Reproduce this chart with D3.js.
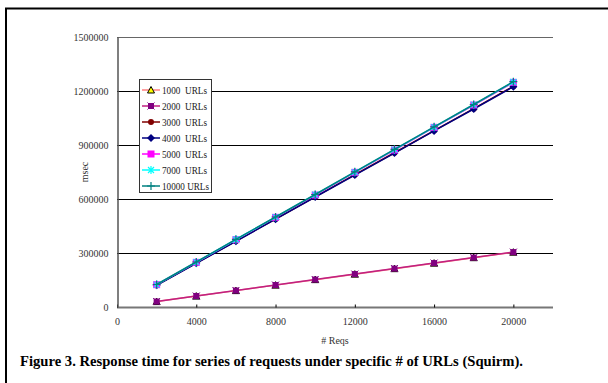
<html>
<head>
<script src="https://cdn.jsdelivr.net/npm/d3@7/dist/d3.min.js"></script>
<style>
  body { margin: 0; background: #fff; }
  text { font-family: "Liberation Serif", "DejaVu Serif", serif; }
</style>
</head>
<body>
<svg id="svg" width="608" height="383"></svg>
<script>
  // data
  let reqs = [2000, 4000, 6000, 8000, 10000, 12000, 14000, 16000, 18000, 20000];
  let urls1000  = [30000, 60500, 91000, 121500, 152000, 182500, 213000, 243500, 274000, 304500];
  let urls2000  = [30500, 61000, 91500, 122000, 152500, 183000, 213500, 244000, 274500, 305000];
  let urls3000  = [121000, 244000, 366000, 489000, 612000, 735000, 857000, 980000, 1102000, 1226000];
  let urls4000  = [120500, 243000, 365000, 488000, 611000, 733000, 855000, 978000, 1100000, 1224000];
  let urls5000  = [124000, 248000, 374000, 498000, 622000, 748000, 872000, 998000, 1122000, 1248000];
  let urls7000  = [124500, 249000, 375000, 499000, 624000, 749000, 874000, 999000, 1124000, 1250000];
  let urls10000 = [125000, 250000, 376000, 500000, 625000, 751000, 876000, 1001000, 1125000, 1252000];
  let names = ["1000  URLs", "2000  URLs", "3000  URLs", "4000  URLs", "5000  URLs", "7000  URLs", "10000 URLs"];
  let xTicks = [0, 4000, 8000, 12000, 16000, 20000];
  let yTicks = [0, 300000, 600000, 900000, 1200000, 1500000];

  let series = [
    {name: names[0], vals: urls1000,  line: "#ff8080", mark: "tri"},
    {name: names[1], vals: urls2000,  line: "#c02080", mark: "xsq"},
    {name: names[2], vals: urls3000,  line: "#800000", mark: "circ"},
    {name: names[3], vals: urls4000,  line: "#000080", mark: "dia"},
    {name: names[4], vals: urls5000,  line: "#ff00ff", mark: "sq"},
    {name: names[5], vals: urls7000,  line: "#00ffff", mark: "star"},
    {name: names[6], vals: urls10000, line: "#008080", mark: "plus"}
  ];

  let svg = d3.select("#svg");

  // outer frame (top + left)
  svg.append("line").attr("x1", 5).attr("x2", 608).attr("y1", 8.5).attr("y2", 8.5)
    .attr("stroke", "#000").attr("stroke-width", 2);
  svg.append("line").attr("x1", 6).attr("x2", 6).attr("y1", 8).attr("y2", 383)
    .attr("stroke", "#000").attr("stroke-width", 2);

  let L = 117, R = 553, T = 37, B = 307;
  let x = d3.scaleLinear().domain([0, 22000]).range([L, R]);
  let y = d3.scaleLinear().domain([0, 1500000]).range([B, T]);

  // gridlines
  svg.append("g").selectAll("line").data(yTicks.filter(d => d > 0)).enter().append("line")
    .attr("x1", L).attr("x2", R)
    .attr("y1", d => Math.round(y(d)) + 0.5).attr("y2", d => Math.round(y(d)) + 0.5)
    .attr("stroke", d => d === 1500000 ? "#666" : "#000").attr("stroke-width", 1.2);

  // axes
  let gx = svg.append("g").attr("transform", "translate(0," + (B + 0.5) + ")")
    .call(d3.axisBottom(x).tickValues(xTicks).tickSize(3).tickFormat(d3.format("d")));
  gx.select(".domain").attr("stroke", "#777").attr("stroke-width", 2).attr("d", "M" + L + ",0H" + R);
  gx.selectAll(".tick line").attr("y1", -3).attr("y2", 0).attr("stroke", "#000");
  gx.selectAll(".tick text").attr("y", 10).attr("font-size", 10).attr("fill", "#333")
    .attr("font-family", "Liberation Serif");

  let gy = svg.append("g").attr("transform", "translate(" + (L + 0.5) + ",0)")
    .call(d3.axisLeft(y).tickValues(yTicks).tickSize(0).tickPadding(9).tickFormat(d3.format("d")));
  gy.select(".domain").attr("stroke", "#555").attr("stroke-width", 1.5);
  gy.selectAll(".tick text").attr("font-size", 10).attr("fill", "#333")
    .attr("font-family", "Liberation Serif");

  svg.append("text").attr("x", 335).attr("y", 344).attr("text-anchor", "middle")
    .attr("font-size", 10).attr("fill", "#333").text("# Reqs");
  svg.append("text").attr("transform", "translate(88,172) rotate(-90)").attr("text-anchor", "middle")
    .attr("font-size", 10).attr("fill", "#333").text("msec");

  // markers
  function marker(g, kind) {
    if (kind === "tri") {
      g.append("path").attr("d", "M0,-3.5L3.5,3L-3.5,3Z").attr("fill", "#ffff00").attr("stroke", "#000").attr("stroke-width", 1);
    } else if (kind === "xsq") {
      g.append("rect").attr("x", -3).attr("y", -3).attr("width", 6).attr("height", 6).attr("fill", "#800080");
      g.append("path").attr("d", "M-3.5,-3.5L3.5,3.5M-3.5,3.5L3.5,-3.5").attr("stroke", "#800080").attr("stroke-width", 1);
    } else if (kind === "circ") {
      g.append("circle").attr("r", 3).attr("fill", "#800000");
    } else if (kind === "dia") {
      g.append("path").attr("d", "M0,-4L4,0L0,4L-4,0Z").attr("fill", "#000080");
    } else if (kind === "sq") {
      g.append("rect").attr("x", -3.5).attr("y", -3.5).attr("width", 7).attr("height", 7).attr("fill", "#ff00ff");
    } else if (kind === "star") {
      g.append("path").attr("d", "M-3,-3L3,3M-3,3L3,-3M0,-4V4").attr("stroke", "#00ffff").attr("stroke-width", 1.2);
    } else if (kind === "plus") {
      g.append("path").attr("d", "M-4,0H4M0,-4V4").attr("stroke", "#008080").attr("stroke-width", 1.2);
    }
  }

  let line = d3.line().x((d, i) => x(reqs[i])).y(d => y(d));
  series.forEach(function (s) {
    let g = svg.append("g");
    g.append("path").attr("d", line(s.vals)).attr("fill", "none")
      .attr("stroke", s.line).attr("stroke-width", 1.5);
    g.selectAll("g").data(s.vals).enter().append("g")
      .attr("transform", (d, i) => "translate(" + x(reqs[i]) + "," + y(d) + ")")
      .each(function () { marker(d3.select(this), s.mark); });
  });

  // legend
  let lg = svg.append("g");
  lg.append("rect").attr("x", 139.5).attr("y", 79.5).attr("width", 72).attr("height", 113)
    .attr("fill", "#fff").attr("stroke", "#333").attr("stroke-width", 1);
  series.forEach(function (s, i) {
    let yy = 90 + i * 16;
    lg.append("line").attr("x1", 142).attr("x2", 160).attr("y1", yy).attr("y2", yy)
      .attr("stroke", s.line).attr("stroke-width", 1.5);
    marker(lg.append("g").attr("transform", "translate(151," + yy + ")"), s.mark);
    lg.append("text").attr("x", 162).attr("y", yy + 3.5).attr("font-size", 10).attr("fill", "#222")
      .attr("textLength", i === 6 ? 47 : 45).attr("lengthAdjust", "spacingAndGlyphs")
      .style("white-space", "pre").text(s.name);
  });

  // caption
  svg.append("text").attr("x", 20).attr("y", 366).attr("font-size", 15).attr("font-weight", "bold")
    .attr("fill", "#000").attr("textLength", 503).attr("lengthAdjust", "spacingAndGlyphs")
    .text("Figure 3. Response time for series of requests under specific # of URLs (Squirm).");
</script>
</body>
</html>
